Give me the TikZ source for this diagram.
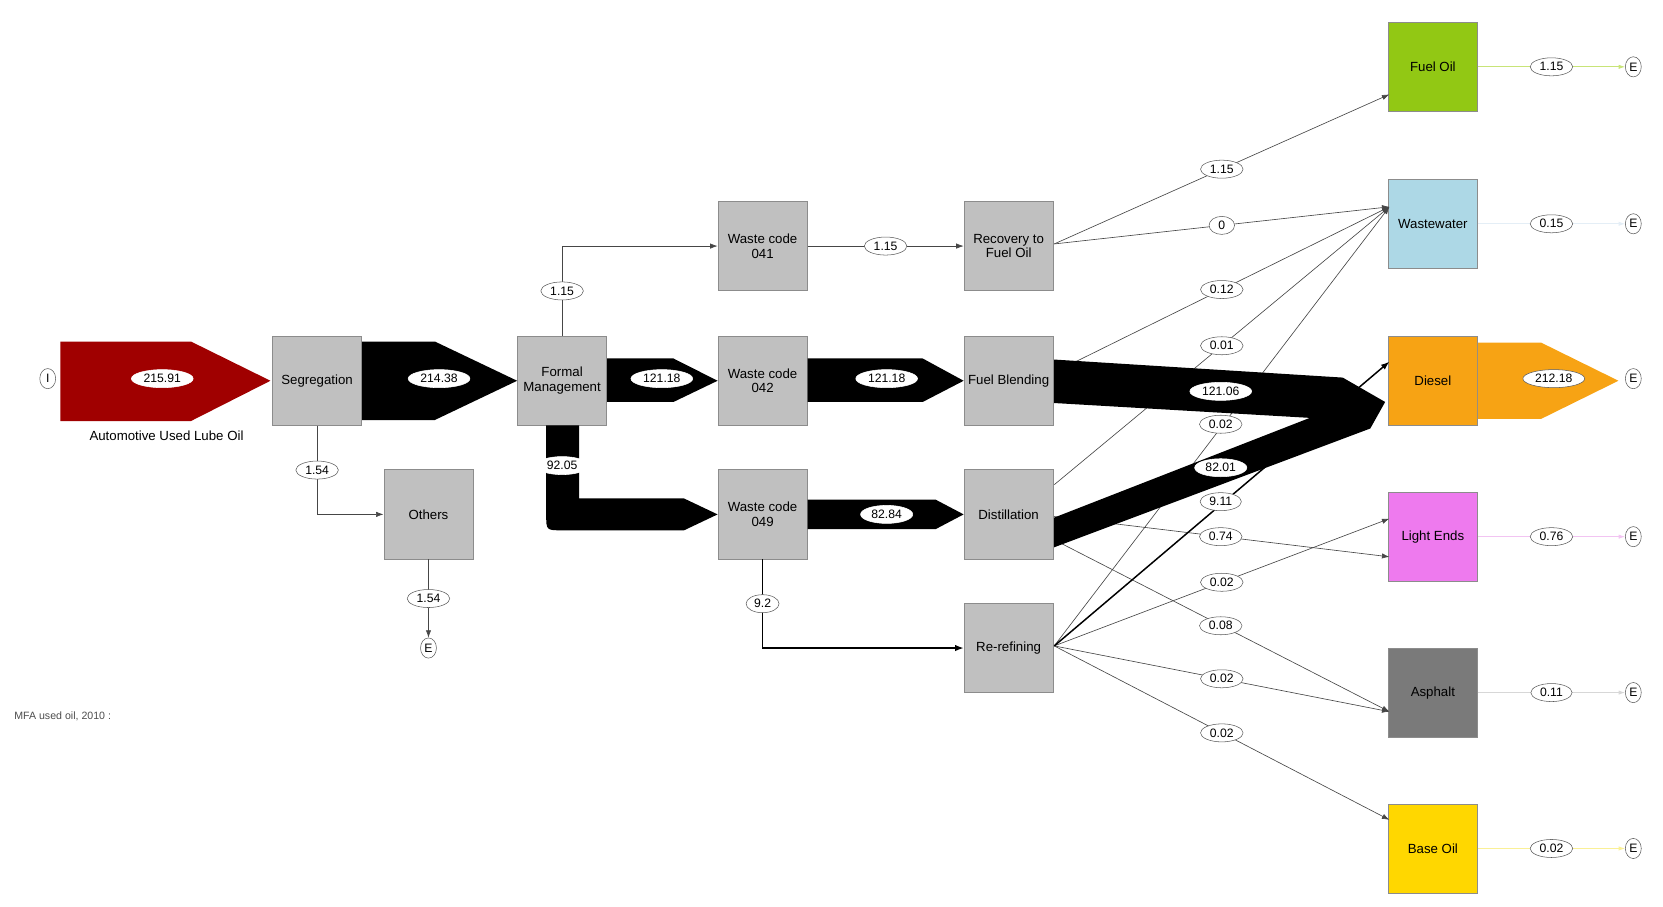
\documentclass[tikz,border=0pt]{standalone}
\usepackage{fontspec}
\setmainfont{Liberation Sans}
\usetikzlibrary{arrows.meta,shapes.geometric}
\definecolor{boxgray}{RGB}{192,192,192}
\definecolor{boxedge}{RGB}{140,140,140}
\definecolor{linegray}{RGB}{70,70,70}
\definecolor{labeledge}{RGB}{90,90,90}
\definecolor{darkred}{RGB}{160,0,0}
\definecolor{fogreen}{RGB}{146,200,20}
\definecolor{wwblue}{RGB}{173,216,230}
\definecolor{dieselor}{RGB}{247,163,20}
\definecolor{lepink}{RGB}{238,122,238}
\definecolor{asphgray}{RGB}{122,122,122}
\definecolor{boyellow}{RGB}{255,215,0}
\begin{document}
\begin{tikzpicture}[x=1pt,y=-1pt,
  font=\fontsize{12.5}{14}\selectfont,
  proc/.style={draw=boxedge, fill=boxgray, line width=0.8pt, minimum width=84, minimum height=84, inner sep=1pt, align=center},
  lbl/.style={ellipse, draw=labeledge, fill=white, line width=0.5pt, inner xsep=3pt, inner ysep=0pt, minimum height=17, minimum width=24, font=\fontsize{11.5}{12}\selectfont},
  wlbl/.style={lbl, draw=white},
  term/.style={ellipse, draw=labeledge, fill=white, line width=0.5pt, minimum width=15, minimum height=19, inner sep=0pt, font=\fontsize{11.5}{12}\selectfont},
  flow/.style={draw=linegray, line width=0.6pt, -{Latex[length=7pt,width=5pt]}},
  bflow/.style={draw=black, line width=1.4pt, -{Latex[length=8pt,width=6pt]}},
  expo/.style={line width=0.7pt, -{Latex[length=6pt,width=4pt]}}
]
\useasboundingbox (0,0) rectangle (1568,855);

% ---------- process boxes ----------
\node[proc] (seg)  at (299,359) {Segregation};
\node[proc] (fm)   at (530,359) {Formal\\Management};
\node[proc] (oth)  at (404,485) {Others};
\node[proc] (wc41) at (719,232) {Waste code\\041};
\node[proc] (wc42) at (719,359) {Waste code\\042};
\node[proc] (wc49) at (719,485) {Waste code\\049};
\node[proc] (rec)  at (951,232) {Recovery to\\Fuel Oil};
\node[proc] (fb)   at (951,359) {Fuel Blending};
\node[proc] (dist) at (951,485) {Distillation};
\node[proc] (rr)   at (951,611) {Re-refining};

% ---------- product boxes ----------
\node[proc, fill=fogreen]   (fo)   at (1351,63)  {Fuel Oil};
\node[proc, fill=wwblue]    (ww)   at (1351,211) {Wastewater};
\node[proc, fill=dieselor]  (dsl)  at (1351,359) {Diesel};
\node[proc, fill=lepink]    (le)   at (1351,506) {Light Ends};
\node[proc, fill=asphgray]  (asph) at (1351,653) {Asphalt};
\node[proc, fill=boyellow]  (bo)   at (1351,800) {Base Oil};

% ---------- import / export terminals ----------
\node[term] (imp) at (45,357) {I};
\node[term] (eO)  at (404,611) {E};
\node[term] (eFO) at (1540,63)  {E};
\node[term] (eWW) at (1540,211) {E};
\node[term] (eD)  at (1540,357) {E};
\node[term] (eLE) at (1540,506) {E};
\node[term] (eAS) at (1540,653) {E};
\node[term] (eBO) at (1540,800) {E};

% ---------- ports ----------
\coordinate (recO)  at (994,230);
\coordinate (fbO)   at (994,351);
\coordinate (distA) at (994,457);
\coordinate (distB) at (994,487);
\coordinate (distC) at (994,509);
\coordinate (rrO)   at (994,609);
\coordinate (foI)   at (1310,89);
\coordinate (wwI)   at (1310,195);
\coordinate (dslI)  at (1310,341);
\coordinate (leI1)  at (1310,489);
\coordinate (leI2)  at (1310,525);
\coordinate (asI)   at (1310,671);
\coordinate (boI)   at (1310,773);

% ---------- thin connectors ----------
\draw[flow] (seg.south) |- (oth.west) node[lbl, pos=0.25] {1.54};
\draw[flow] (oth.south) -- (eO.north) node[lbl, midway] {1.54};
\draw[flow] (fm.north) |- (wc41.west) node[lbl, pos=0.25] {1.15};
\draw[flow] (wc41.east) -- (rec.west) node[lbl, midway] {1.15};
\draw[bflow, line width=1.2pt] (wc49.south) |- (rr.west) node[lbl, pos=0.25] {9.2};

\draw[flow] (recO) -- (foI) node[lbl, pos=0.5] {1.15};
\draw[flow] (recO) -- (wwI) node[lbl, pos=0.5] {0};
\draw[flow] (fbO) -- (wwI) node[lbl, pos=0.5] {0.12};
\draw[flow] (distA) -- (wwI) node[lbl, pos=0.5] {0.01};
\draw[flow] (rrO) -- (wwI);
\draw[flow] (distB) -- (leI2);
\draw[flow] (rrO) -- (leI1) node[lbl, pos=0.5] {0.02};
\draw[flow] (distC) -- (asI);
\draw[flow] (rrO) -- (asI) node[lbl, pos=0.5] {0.02};
\draw[flow] (rrO) -- (boI) node[lbl, pos=0.5] {0.02};
\draw[bflow] (rrO) -- (dslI);

% ---------- exports ----------
\draw[expo, draw={rgb,255:red,200;green,228;blue,120}] (fo.east) -- (eFO.west) node[lbl, midway] {1.15};
\draw[expo, draw={rgb,255:red,228;green,238;blue,246}] (ww.east) -- (eWW.west) node[lbl, midway] {0.15};
\draw[expo, draw={rgb,255:red,242;green,196;blue,242}] (le.east) -- (eLE.west) node[lbl, midway] {0.76};
\draw[expo, draw={rgb,255:red,215;green,215;blue,215}] (asph.east) -- (eAS.west) node[lbl, midway] {0.11};
\draw[expo, draw={rgb,255:red,250;green,240;blue,150}] (bo.east) -- (eBO.west) node[lbl, midway] {0.02};

% ---------- thick flows ----------
\fill[darkred] (57,322) -- (180,322) -- (255,359) -- (180,397) -- (57,397) -- cycle;
\node[wlbl] (l21591) at (153,357) {215.91};
\node (ausl) at (157,411) {Automotive Used Lube Oil};

\fill[black] (seg.east |- 0,322) -- (410,322) -- (fm.west) -- (410,396) -- (seg.east |- 0,396) -- cycle;
\node[wlbl] at (414,357) {214.38};

\fill[black] (fm.east |- 0,338) -- (635,338) -- (wc42.west) -- (635,379) -- (fm.east |- 0,379) -- cycle;
\node[wlbl] at (624,357) {121.18};

\fill[black] (wc42.east |- 0,338) -- (870,338) -- (fb.west) -- (870,379) -- (wc42.east |- 0,379) -- cycle;
\node[wlbl] at (836,357) {121.18};

\fill[black] (515,401) -- (515,485) .. controls (515,500) .. (530,500) -- (645,500) -- (wc49.west) -- (645,470) -- (546,470) -- (546,401) -- cycle;
\node[wlbl] at (530,439) {92.05};

\fill[black] (wc49.east |- 0,471) -- (882,471) -- (dist.west) -- (882,499) -- (wc49.east |- 0,499) -- cycle;
\node[wlbl] at (836,485) {82.84};

\fill[black] (994,339) -- (1266,356) -- (1306,379) -- (1292,404) -- (994,516) -- (994,488) -- (1235,394) -- (994,380) -- cycle;
\node[wlbl] at (1151,369) {121.06};
\node[wlbl] at (1151,441) {82.01};

\fill[dieselor] (dsl.east |- 0,323) -- (1453,323) -- (1526,359) -- (1453,395) -- (dsl.east |- 0,395) -- cycle;
\node[lbl] at (1465,357) {212.18};

% ---------- labels over the fan ----------
\node[lbl] at (1151,400) {0.02};
\node[lbl] at (1151,473) {9.11};
\node[lbl] at (1151,506) {0.74};
\node[lbl] at (1151,590) {0.08};

\node[anchor=west, text=black!70, font=\fontsize{10}{12}\selectfont] (legend) at (10,675) {MFA used oil, 2010 :};
\end{tikzpicture}
\end{document}
